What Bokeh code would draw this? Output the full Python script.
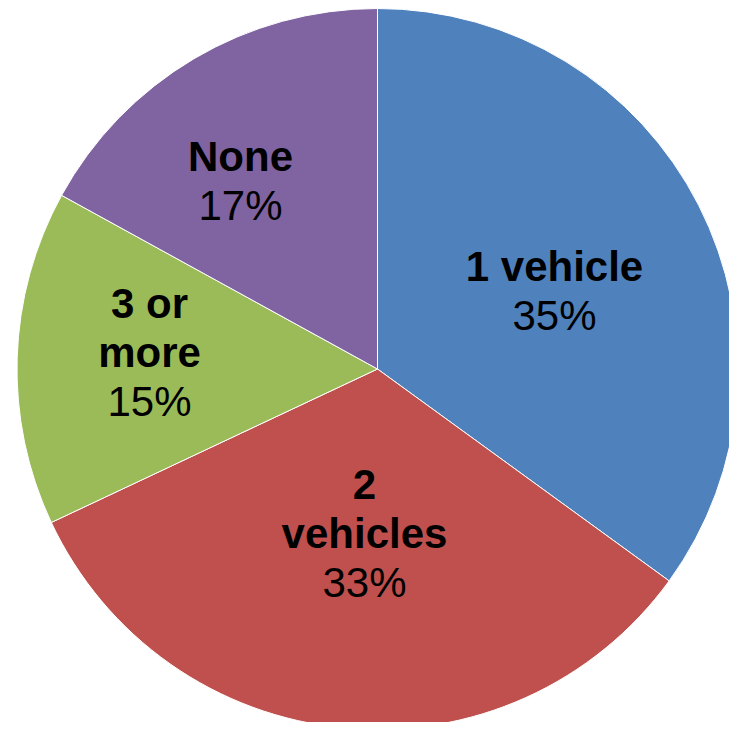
import math
from bokeh.plotting import figure
from bokeh.models import Range1d, ColumnDataSource
from bokeh.core.properties import value
from bokeh.embed import file_html
from bokeh.resources import INLINE

# ---- data ----
categories = ["1 vehicle", "2 vehicles", "3 or more", "None"]
shares = [35, 33, 15, 17]
colors = ["#4F81BD", "#C0504D", "#9BBB59", "#8064A2"]
name_lines = [["1 vehicle"], ["2", "vehicles"], ["3 or", "more"], ["None"]]
pct_labels = [f"{v}%" for v in shares]

# ---- layout (image pixel coords; converted below) ----
W, H = 729, 722
def dy(img_y):
    return H - img_y

cx, cy, R = 377, dy(368.5), 360.5
# label anchor: centre x, vertical centre of first line (image coords)
label_anchor = [(554, 266), (364, 484), (149, 303), (240, 156)]
line_step = 49

total = sum(shares)
starts, ends = [], []
a = math.pi / 2
for v in shares:
    starts.append(a)
    a -= v / total * 2 * math.pi
    ends.append(a)

src = ColumnDataSource(dict(start=starts, end=ends, color=colors, cat=categories))

p = figure(width=W, height=H, x_range=Range1d(0, W), y_range=Range1d(0, H),
           output_backend="svg", toolbar_location=None, min_border=0)
p.axis.visible = False
p.grid.visible = False
p.outline_line_color = None
p.background_fill_color = "white"
p.border_fill_color = "white"

p.wedge(x=cx, y=cy, radius=R, start_angle="start", end_angle="end", direction="clock",
        fill_color="color", line_color="white", line_width=1, source=src)

bx, by, bt = [], [], []
nx, ny, nt = [], [], []
for (ax, ay), lines, pct in zip(label_anchor, name_lines, pct_labels):
    for i, ln in enumerate(lines):
        bx.append(ax); by.append(dy(ay + i * line_step)); bt.append(ln)
    nx.append(ax); ny.append(dy(ay + len(lines) * line_step)); nt.append(pct)

p.text(x=bx, y=by, text=bt, text_align="center", text_baseline="alphabetic",
       text_font=value("Liberation Sans"), text_font_size="42px", text_font_style="bold",
       text_color="black")
p.text(x=nx, y=ny, text=nt, text_align="center", text_baseline="alphabetic",
       text_font=value("Liberation Sans"), text_font_size="42px", text_color="black")

open("out.html", "w").write(file_html(p, INLINE))
